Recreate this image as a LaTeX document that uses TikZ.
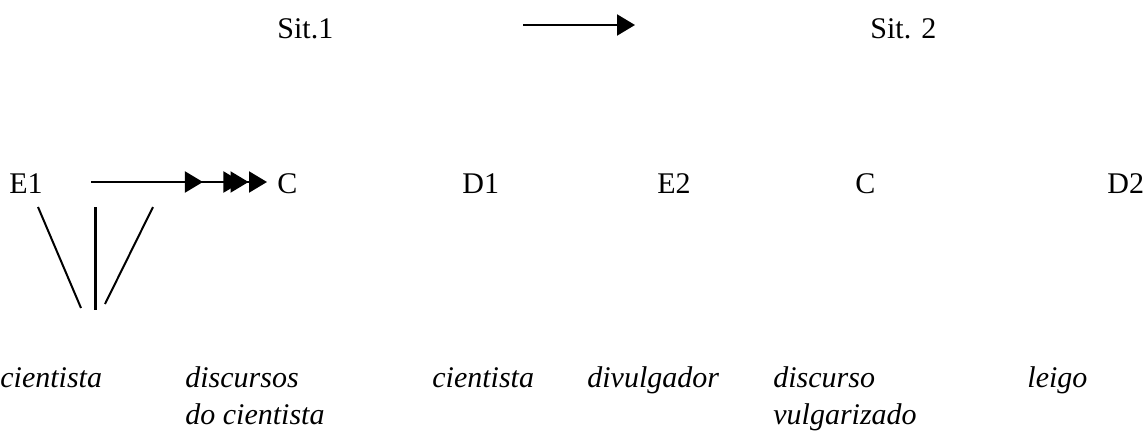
\documentclass[tikz,border=0pt]{standalone}
\usepackage{fontspec}
\setmainfont{Liberation Serif}
\usetikzlibrary{arrows.meta,decorations.markings}
\begin{document}
\begin{tikzpicture}[x=0.5pt,y=-0.5pt,
  lbl/.style={anchor=base west,inner sep=0pt,font=\fontsize{15}{18}\selectfont},
  ilbl/.style={lbl,font=\fontsize{15}{18}\selectfont\itshape},
  headtip/.tip={Triangle[length=9pt,width=10.5pt]},
  conn/.style={line width=1pt,-headtip},
  stroke/.style={line width=1pt}]
\useasboundingbox (0,0) rectangle (1146,434);

% situations
\node[lbl] (sit1) at (277,38) {Sit.1};
\node[lbl] (sit2) at (870,38) {Sit. 2};
\coordinate (ta) at (523,25);
\coordinate (tb) at (635,25);
\draw[conn] (ta) -- (tb);

% actors and channel
\node[lbl] (e1) at (9,193) {E1};
\node[lbl] (c1) at (277,193) {C};
\node[lbl] (d1) at (462,193) {D1};
\node[lbl] (e2) at (657,193) {E2};
\node[lbl] (c2) at (855,193) {C};
\node[lbl] (d2) at (1107,193) {D2};

\coordinate (aa) at (91,182);
\coordinate (ab) at (267,182);
\draw[conn,postaction={decorate},decoration={markings,
  mark=at position 0.636 with {\arrow{headtip}},
  mark=at position 0.855 with {\arrow{headtip}},
  mark=at position 0.895 with {\arrow{headtip}}}] (aa) -- (ab);

% three strokes under E1
\draw[stroke] (38,207) -- (81,308);
\draw[line width=1.5pt] (95,207) -- (95,310);
\draw[stroke] (153,207) -- (105,304);

% roles
\node[ilbl] (r1) at (0,387) {cientista};
\node[ilbl] (r2) at (185,387) {discursos};
\node[ilbl] (r2b) at (185,424) {do cientista};
\node[ilbl] (r3) at (432,387) {cientista};
\node[ilbl] (r4) at (587,387) {divulgador};
\node[ilbl] (r5) at (773,387) {discurso};
\node[ilbl] (r5b) at (773,424) {vulgarizado};
\node[ilbl] (r6) at (1027,387) {leigo};
\end{tikzpicture}
\end{document}
